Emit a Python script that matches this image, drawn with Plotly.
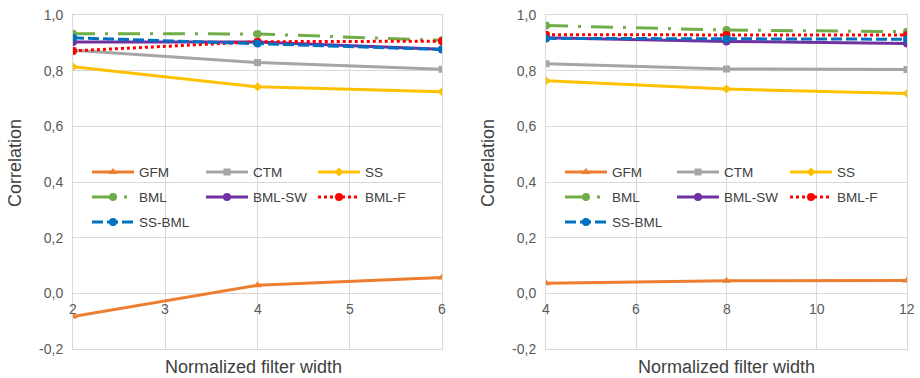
import plotly.graph_objects as go

# ---------------- data ----------------
series_names = ["GFM", "CTM", "SS", "BML", "BML-SW", "BML-F", "SS-BML"]

left_x = [2, 4, 6]
left_gfm = [-0.083, 0.029, 0.057]
left_ctm = [0.873, 0.829, 0.805]
left_ss = [0.814, 0.742, 0.724]
left_bml = [0.933, 0.932, 0.909]
left_bmlsw = [0.903, 0.903, 0.877]
left_bmlf = [0.871, 0.904, 0.906]
left_ssbml = [0.918, 0.898, 0.876]

right_x = [4, 8, 12]
right_gfm = [0.036, 0.045, 0.046]
right_ctm = [0.825, 0.806, 0.804]
right_ss = [0.764, 0.734, 0.718]
right_bml = [0.962, 0.946, 0.940]
right_bmlsw = [0.918, 0.905, 0.898]
right_bmlf = [0.929, 0.928, 0.928]
right_ssbml = [0.916, 0.914, 0.913]

left_xticks = [2, 3, 4, 5, 6]
right_xticks = [4, 6, 8, 10, 12]
y_ticks = [-0.2, 0.0, 0.2, 0.4, 0.6, 0.8, 1.0]
y_ticktext = ["-0,2", "0,0", "0,2", "0,4", "0,6", "0,8", "1,0"]
x_title = "Normalized filter width"
y_title = "Correlation"

# ---------------- styles ----------------
styles = {
    "GFM": dict(color="#ED7D31", dash="solid", symbol="triangle-up", size=8),
    "CTM": dict(color="#A5A5A5", dash="solid", symbol="square", size=7),
    "SS": dict(color="#FFC000", dash="solid", symbol="diamond", size=7),
    "BML": dict(color="#70AD47", dash="22px,10px,3px,10px", symbol="circle", size=8),
    "BML-SW": dict(color="#7030A0", dash="solid", symbol="circle", size=8),
    "BML-F": dict(color="#FF0000", dash="3px,3px", symbol="circle", size=8),
    "SS-BML": dict(color="#0070C0", dash="11px,4px", symbol="circle", size=8),
}
# legend column of each series (3 columns)
col_of = {"GFM": 0, "CTM": 1, "SS": 2, "BML": 0, "BML-SW": 1, "BML-F": 2, "SS-BML": 0}

W, H = 920, 378
FONT = "Liberation Sans, Arial, sans-serif"

fig = go.Figure()

panels = [
    dict(xs=left_x, vals=[left_gfm, left_ctm, left_ss, left_bml, left_bmlsw, left_bmlf, left_ssbml],
         xa="x", ya="y", legends=["legend", "legend2", "legend3"]),
    dict(xs=right_x, vals=[right_gfm, right_ctm, right_ss, right_bml, right_bmlsw, right_bmlf, right_ssbml],
         xa="x2", ya="y2", legends=["legend4", "legend5", "legend6"]),
]

for pi, p in enumerate(panels):
    for name, vals in zip(series_names, p["vals"]):
        s = styles[name]
        fig.add_trace(go.Scatter(
            x=p["xs"], y=vals, name=name, mode="lines+markers",
            xaxis=p["xa"], yaxis=p["ya"],
            line=dict(color=s["color"], width=3, dash=s["dash"]),
            marker=dict(symbol=s["symbol"], size=s["size"], color=s["color"]),
            legend=p["legends"][col_of[name]],
            legendgroup=f"p{pi}_{name}",
        ))

# ---------------- layout ----------------
def px_x(v):
    return v / W

def px_y(v):
    return 1 - v / H

ydom = [px_y(349), px_y(15)]
axis_common = dict(showgrid=True, gridcolor="#D9D9D9", gridwidth=1, showline=True, mirror=True,
                   linecolor="#D9D9D9", linewidth=1, zeroline=False, ticks="", automargin=False)

yaxis_common = dict(axis_common, range=[-0.2, 1.0], tickvals=y_ticks, ticktext=y_ticktext,
                    tickfont=dict(family=FONT, size=14, color="#595959"), ticklabelstandoff=6)

fig.update_layout(
    width=W, height=H, margin=dict(l=0, r=0, t=0, b=0, autoexpand=False),
    paper_bgcolor="white", plot_bgcolor="white",
    font=dict(family=FONT, color="#404040"),
    xaxis=dict(axis_common, domain=[px_x(73), px_x(442)], range=[2, 6], tickvals=left_xticks,
               showticklabels=False, anchor="y"),
    yaxis=dict(yaxis_common, domain=ydom, anchor="x"),
    xaxis2=dict(axis_common, domain=[px_x(546), px_x(907)], range=[4, 12], tickvals=right_xticks,
                showticklabels=False, anchor="y2"),
    yaxis2=dict(yaxis_common, domain=ydom, anchor="x2"),
    showlegend=True,
)

leg_common = dict(orientation="v", xanchor="left", yanchor="top", bgcolor="rgba(0,0,0,0)",
                  borderwidth=0, font=dict(family=FONT, size=13.5, color="#404040"),
                  itemwidth=42, traceorder="grouped", tracegroupgap=4.45)
leg_top = px_y(156.7)
for key, xp in zip(["legend", "legend2", "legend3", "legend4", "legend5", "legend6"],
                   [87, 201, 313, 560, 672, 785]):
    fig.update_layout({key: dict(leg_common, x=px_x(xp), y=leg_top)})

# white legend boxes hiding gridlines
for x0, x1 in [(85, 426), (557, 895)]:
    fig.add_shape(type="rect", xref="paper", yref="paper", x0=px_x(x0), x1=px_x(x1),
                  y0=px_y(232), y1=px_y(150), fillcolor="white", line=dict(width=0), layer="between")

# x tick labels at the y=0 crossing
for xa, ya, ticks in [("x", "y", left_xticks), ("x2", "y2", right_xticks)]:
    for t in ticks:
        fig.add_annotation(x=t, y=0, xref=xa, yref=ya, text=str(t), showarrow=False,
                           yanchor="middle", yshift=-16,
                           font=dict(family=FONT, size=14, color="#595959"))

# axis titles
for xc in [253, 726]:
    fig.add_annotation(x=px_x(xc), y=px_y(367), xref="paper", yref="paper", text=x_title,
                       showarrow=False, xanchor="center", yanchor="middle",
                       font=dict(family=FONT, size=18, color="#404040"))
for xc in [15, 488]:
    fig.add_annotation(x=px_x(xc), y=px_y(163), xref="paper", yref="paper", text=y_title,
                       showarrow=False, textangle=-90, xanchor="center", yanchor="middle",
                       font=dict(family=FONT, size=18, color="#404040"))

fig.write_html("out.html", config={"displayModeBar": False},
               post_script="document.body.style.margin='0';document.body.style.overflow='hidden';")
